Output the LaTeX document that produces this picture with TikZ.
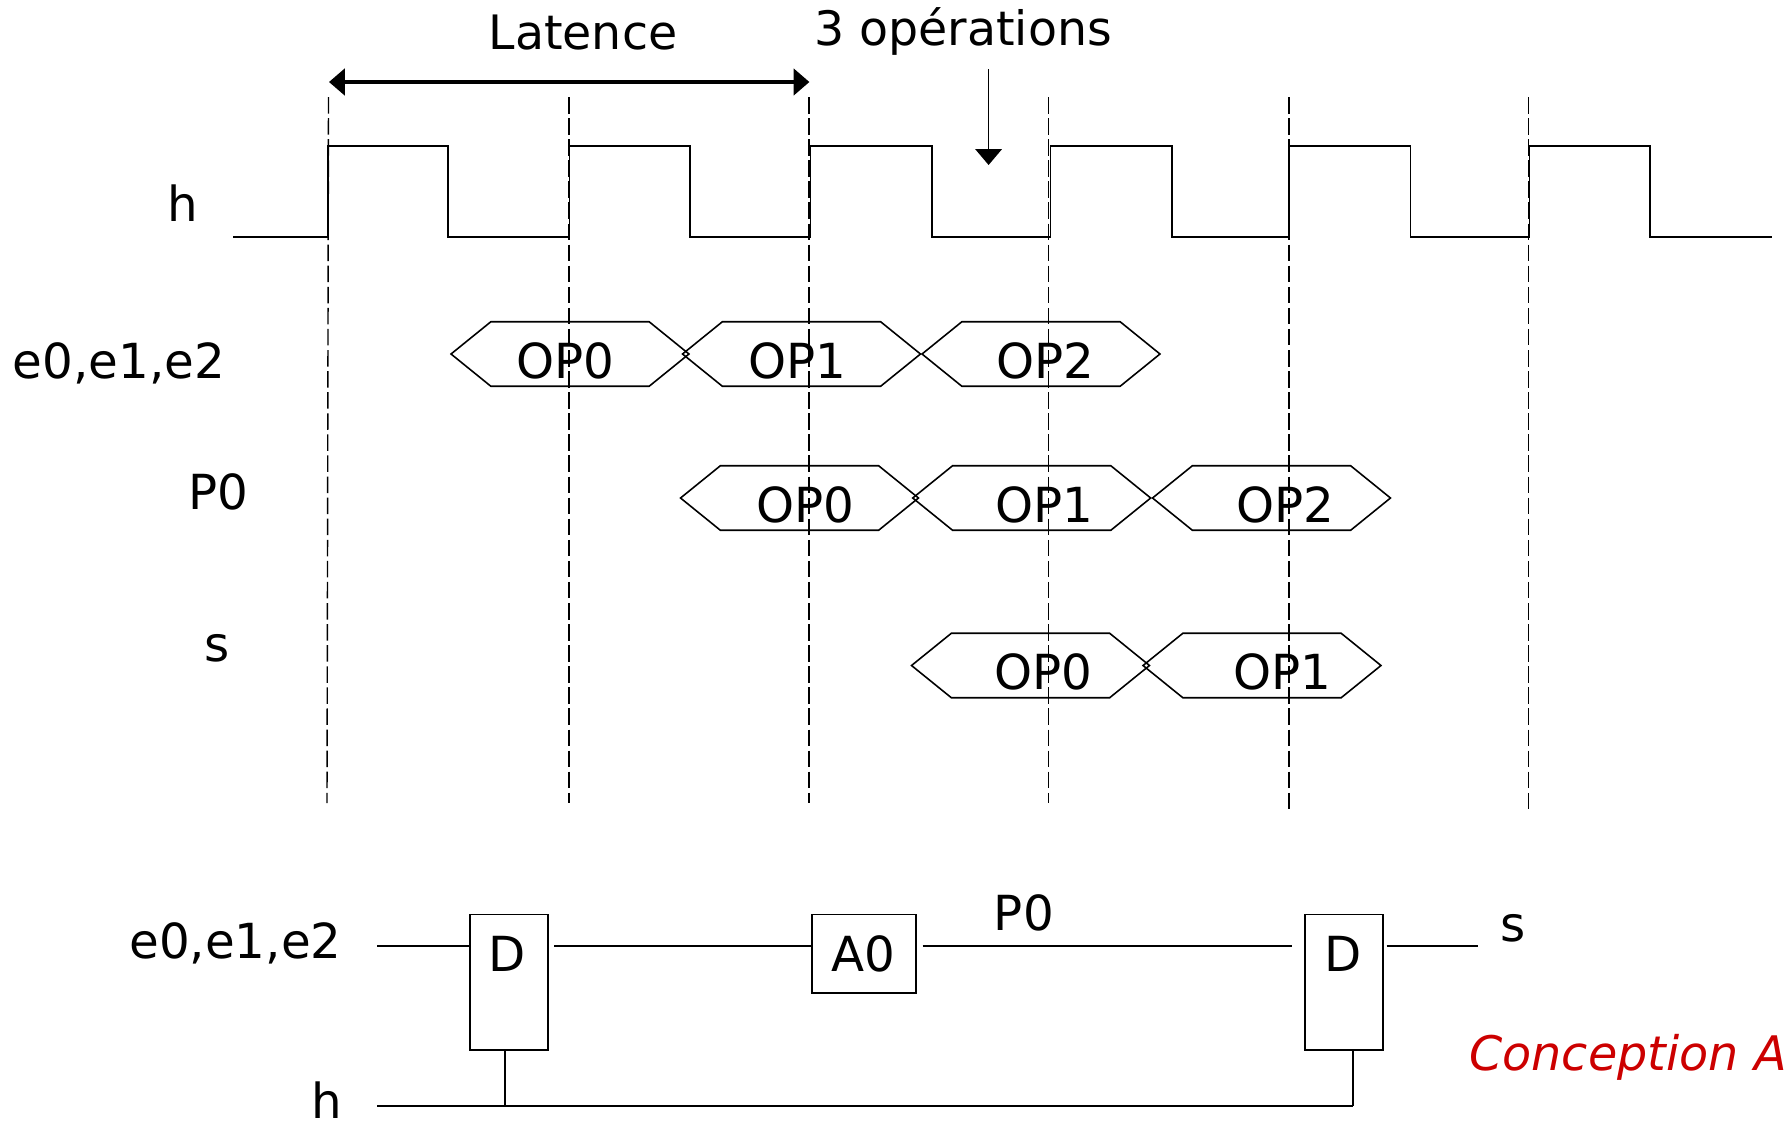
\documentclass[tikz,border=0pt]{standalone}
\usepackage{fontspec}
\setmainfont{DejaVu Sans}
\usetikzlibrary{shapes.symbols, arrows.meta, positioning}
\definecolor{latred}{HTML}{CC0000}

\begin{document}
\begin{tikzpicture}[
    x=0.02cm, y=-0.02cm,
    txt/.style={inner sep=0pt, anchor=base, font=\fontsize{27.5}{30}\selectfont},
    busval/.style={signal, signal to=east and west, signal pointer angle=78, draw, line width=0.9pt, inner sep=0pt, minimum width=4.76cm, minimum height=1.29cm},
    tickline/.style={line width=0.8pt, dash pattern=on 9.4pt off 2.6pt},
    clock/.style={line width=1pt},
    wire/.style={line width=1.1pt},
    arrow/.style={-{Triangle[length=9pt, width=15pt]}},
    bothway/.style={{Triangle[length=9pt, width=15pt]}-{Triangle[length=9pt, width=15pt]}, line width=2pt},
    block/.style={rectangle, draw, line width=1.1pt, inner sep=0pt, anchor=north west}
]
\useasboundingbox (0,0) rectangle (1786,1120);

% Row 0: The clock
\node[txt] (h_lab) at (182.5,221) {h};
\draw[clock] (233,237) -- (328,237) -- (328,146) -- (448,146) -- (448,237) -- (569.5,237) -- (569.5,146) -- (690,146) -- (690,237) -- (810.6,237) -- (810.6,146) -- (932,146) -- (932,237) -- (1050.5,237) -- (1050.5,146) -- (1171.8,146) -- (1171.8,237) -- (1289,237) -- (1289,146) -- (1410.4,146) -- (1410.4,237) -- (1529.5,237) -- (1529.5,146) -- (1650,146) -- (1650,237) -- (1771.5,237);

% Dashed clock edges
\coordinate (top0) at (328.5,97);
\coordinate (bot0) at (327,803);
\coordinate (top1) at (569,97);
\coordinate (bot1) at (569,803);
\coordinate (top2) at (809,97);
\coordinate (bot2) at (809,803);
\coordinate (top3) at (1048.7,97);
\coordinate (bot3) at (1048.7,803);
\coordinate (top4) at (1289,97);
\coordinate (bot4) at (1289,811);
\coordinate (top5) at (1528.3,97);
\coordinate (bot5) at (1528.3,811);
\draw[tickline] (top0) -- (bot0);
\draw[tickline] (top1) -- (bot1);
\draw[tickline] (top2) -- (bot2);
\draw[tickline] (top3) -- (bot3);
\draw[tickline] (top4) -- (bot4);
\draw[tickline] (top5) -- (bot5);

% Annotations above the clock
\node[txt, font=\fontsize{27}{32}\selectfont] (latence) at (583,49) {Latence};
\node[txt, font=\fontsize{27}{32}\selectfont] (three_op) at (963,45) {3 opérations};
\coordinate (lat_a) at (329,82);
\coordinate (lat_b) at (809.4,82);
\coordinate (op_a) at (988.6,69);
\coordinate (op_b) at (988.6,165);
\draw[bothway] (lat_a) -- (lat_b);
\draw[arrow, line width=1pt] (op_a) -- (op_b);

% Row 1: e0,e1,e2
\node[txt] (e_lab) at (119,378.5) {e0,e1,e2};
\node[busval] (e_op0) at (570,354) {};
\node[busval] (e_op1) at (801.5,354) {};
\node[busval] (e_op2) at (1041,354) {};
\node[txt] at (565,378.5) {OP0};
\node[txt] at (797,378.5) {OP1};
\node[txt] at (1045,378.5) {OP2};

% Row 2: P0
\node[txt] (p_lab) at (218,509) {P0};
\node[busval] (p_op0) at (799.5,498) {};
\node[busval] (p_op1) at (1031.7,498) {};
\node[busval] (p_op2) at (1271.5,498) {};
\node[txt] at (805,522) {OP0};
\node[txt] at (1044,522) {OP1};
\node[txt] at (1285,522) {OP2};

% Row 3: s
\node[txt] (s_lab) at (217,661.5) {s};
\node[busval] (s_op0) at (1030.5,665.5) {};
\node[busval] (s_op1) at (1262,665.5) {};
\node[txt] at (1043,689.5) {OP0};
\node[txt] at (1282,689.5) {OP1};

% Schematic below
\node[block, minimum width=1.56cm, minimum height=2.71cm] (reg_a) at (469,913.5) {};
\node[block, minimum width=2.09cm, minimum height=1.58cm] (add_a) at (811,913.5) {};
\node[block, minimum width=1.56cm, minimum height=2.71cm] (reg_b) at (1304,913.5) {};
\node[txt] (reg_a_lab) at (507.5,971) {D};
\node[txt] (add_a_lab) at (863,971) {A0};
\node[txt] (reg_b_lab) at (1343,971) {D};

\node[txt] (e_in) at (235.5,958) {e0,e1,e2};
\node[txt] (h_in) at (326.6,1118) {h};
\node[txt] (p_wire) at (1023.9,930.5) {P0};
\node[txt] (s_out) at (1512.7,941) {s};
\node[txt, font=\fontsize{27.1}{32}\selectfont\itshape, text=latred] (concept) at (1628,1070.5) {Conception A};

% Wires
\coordinate (in_e) at (377,946);
\coordinate (out_s) at (1478,946);
\coordinate (in_h) at (377,1105.6);
\coordinate (tap_a) at (505,1105.6);
\coordinate (tap_b) at (1352.6,1105.6);
\draw[wire] (in_e) -- (in_e -| reg_a.west);
\draw[wire, shorten <=3pt] (in_e -| reg_a.east) -- (in_e -| add_a.west);
\draw[wire, shorten <=3pt, shorten >=6.7pt] (in_e -| add_a.east) -- (in_e -| reg_b.west);
\draw[wire, shorten <=1.5pt] (in_e -| reg_b.east) -- (out_s);
\draw[wire] (in_h) -- (tap_b);
\draw[wire] (tap_a) -- (tap_a |- reg_a.south);
\draw[wire] (tap_b) -- (tap_b |- reg_b.south);

\end{tikzpicture}
\end{document}
